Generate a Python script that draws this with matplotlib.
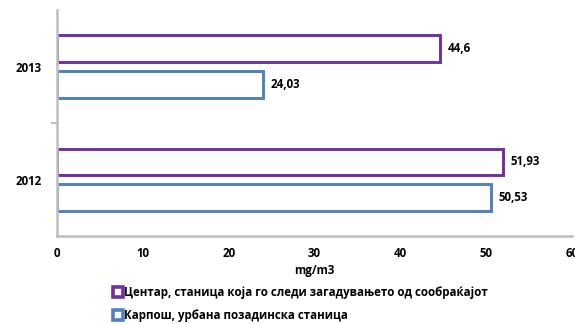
import matplotlib.pyplot as plt
from matplotlib.lines import Line2D
import numpy as np

plt.rcParams['font.family'] = ['Open Sans', 'DejaVu Sans']

# Податоци
godini = ["2012", "2013"]
centar = [51.93, 44.6]
karposh = [50.53, 24.03]
centar_labeli = ["51,93", "44,6"]
karposh_labeli = ["50,53", "24,03"]
serii = ["Центар, станица која го следи загадувањето од сообраќајот",
         "Карпош, урбана позадинска станица"]
x_tikovi = [0, 10, 20, 30, 40, 50, 60]

PURPLE = "#7030A0"
BLUE = "#4F81BD"
FS = 8.3

fig = plt.figure(figsize=(5.75, 3.24), dpi=100)
ax = fig.add_axes([0.099, 0.271, 0.896, 0.698])

y = np.arange(len(godini))
h = 0.235
off = 0.158

ax.barh(y + off, centar, height=h, color="white", edgecolor=PURPLE, linewidth=2.1)
ax.barh(y - off, karposh, height=h, color="white", edgecolor=BLUE, linewidth=2.1)

for yi, v, lab in zip(y + off, centar, centar_labeli):
    ax.text(v + 0.9, yi, lab, va="center", ha="left", fontsize=FS, fontweight="bold")
for yi, v, lab in zip(y - off, karposh, karposh_labeli):
    ax.text(v + 0.9, yi, lab, va="center", ha="left", fontsize=FS, fontweight="bold")

ax.set_xlim(0, 60)
ax.set_ylim(-0.5, 1.5)
ax.set_xticks(x_tikovi)
ax.set_xticklabels([str(t) for t in x_tikovi], fontsize=FS, fontweight="bold")
ax.set_yticks(y)
ax.set_yticklabels(godini, fontsize=FS, fontweight="bold")
ax.set_yticks([0.5], minor=True)
ax.tick_params(axis="x", length=0, pad=8)
ax.tick_params(axis="y", which="major", length=0, pad=11)
ax.tick_params(axis="y", which="minor", length=4, color="#BFBFBF", width=1.5)
ax.set_xlabel("mg/m3", fontsize=FS, fontweight="bold", labelpad=3)

for s in ["top", "right"]:
    ax.spines[s].set_visible(False)
for s in ["left", "bottom"]:
    ax.spines[s].set_color("#BFBFBF")
    ax.spines[s].set_linewidth(1.8)

rachki = [Line2D([0], [0], marker="s", linestyle="none", markersize=7,
                 markerfacecolor="white", markeredgecolor=c, markeredgewidth=2.6)
          for c in [PURPLE, BLUE]]
fig.legend(rachki, serii, loc="lower left", bbox_to_anchor=(0.18, -0.025),
           frameon=False, handlelength=0.7, handletextpad=0.2,
           labelspacing=0.85, prop={"weight": "bold", "size": FS})

fig.savefig("out.png", dpi=100)
